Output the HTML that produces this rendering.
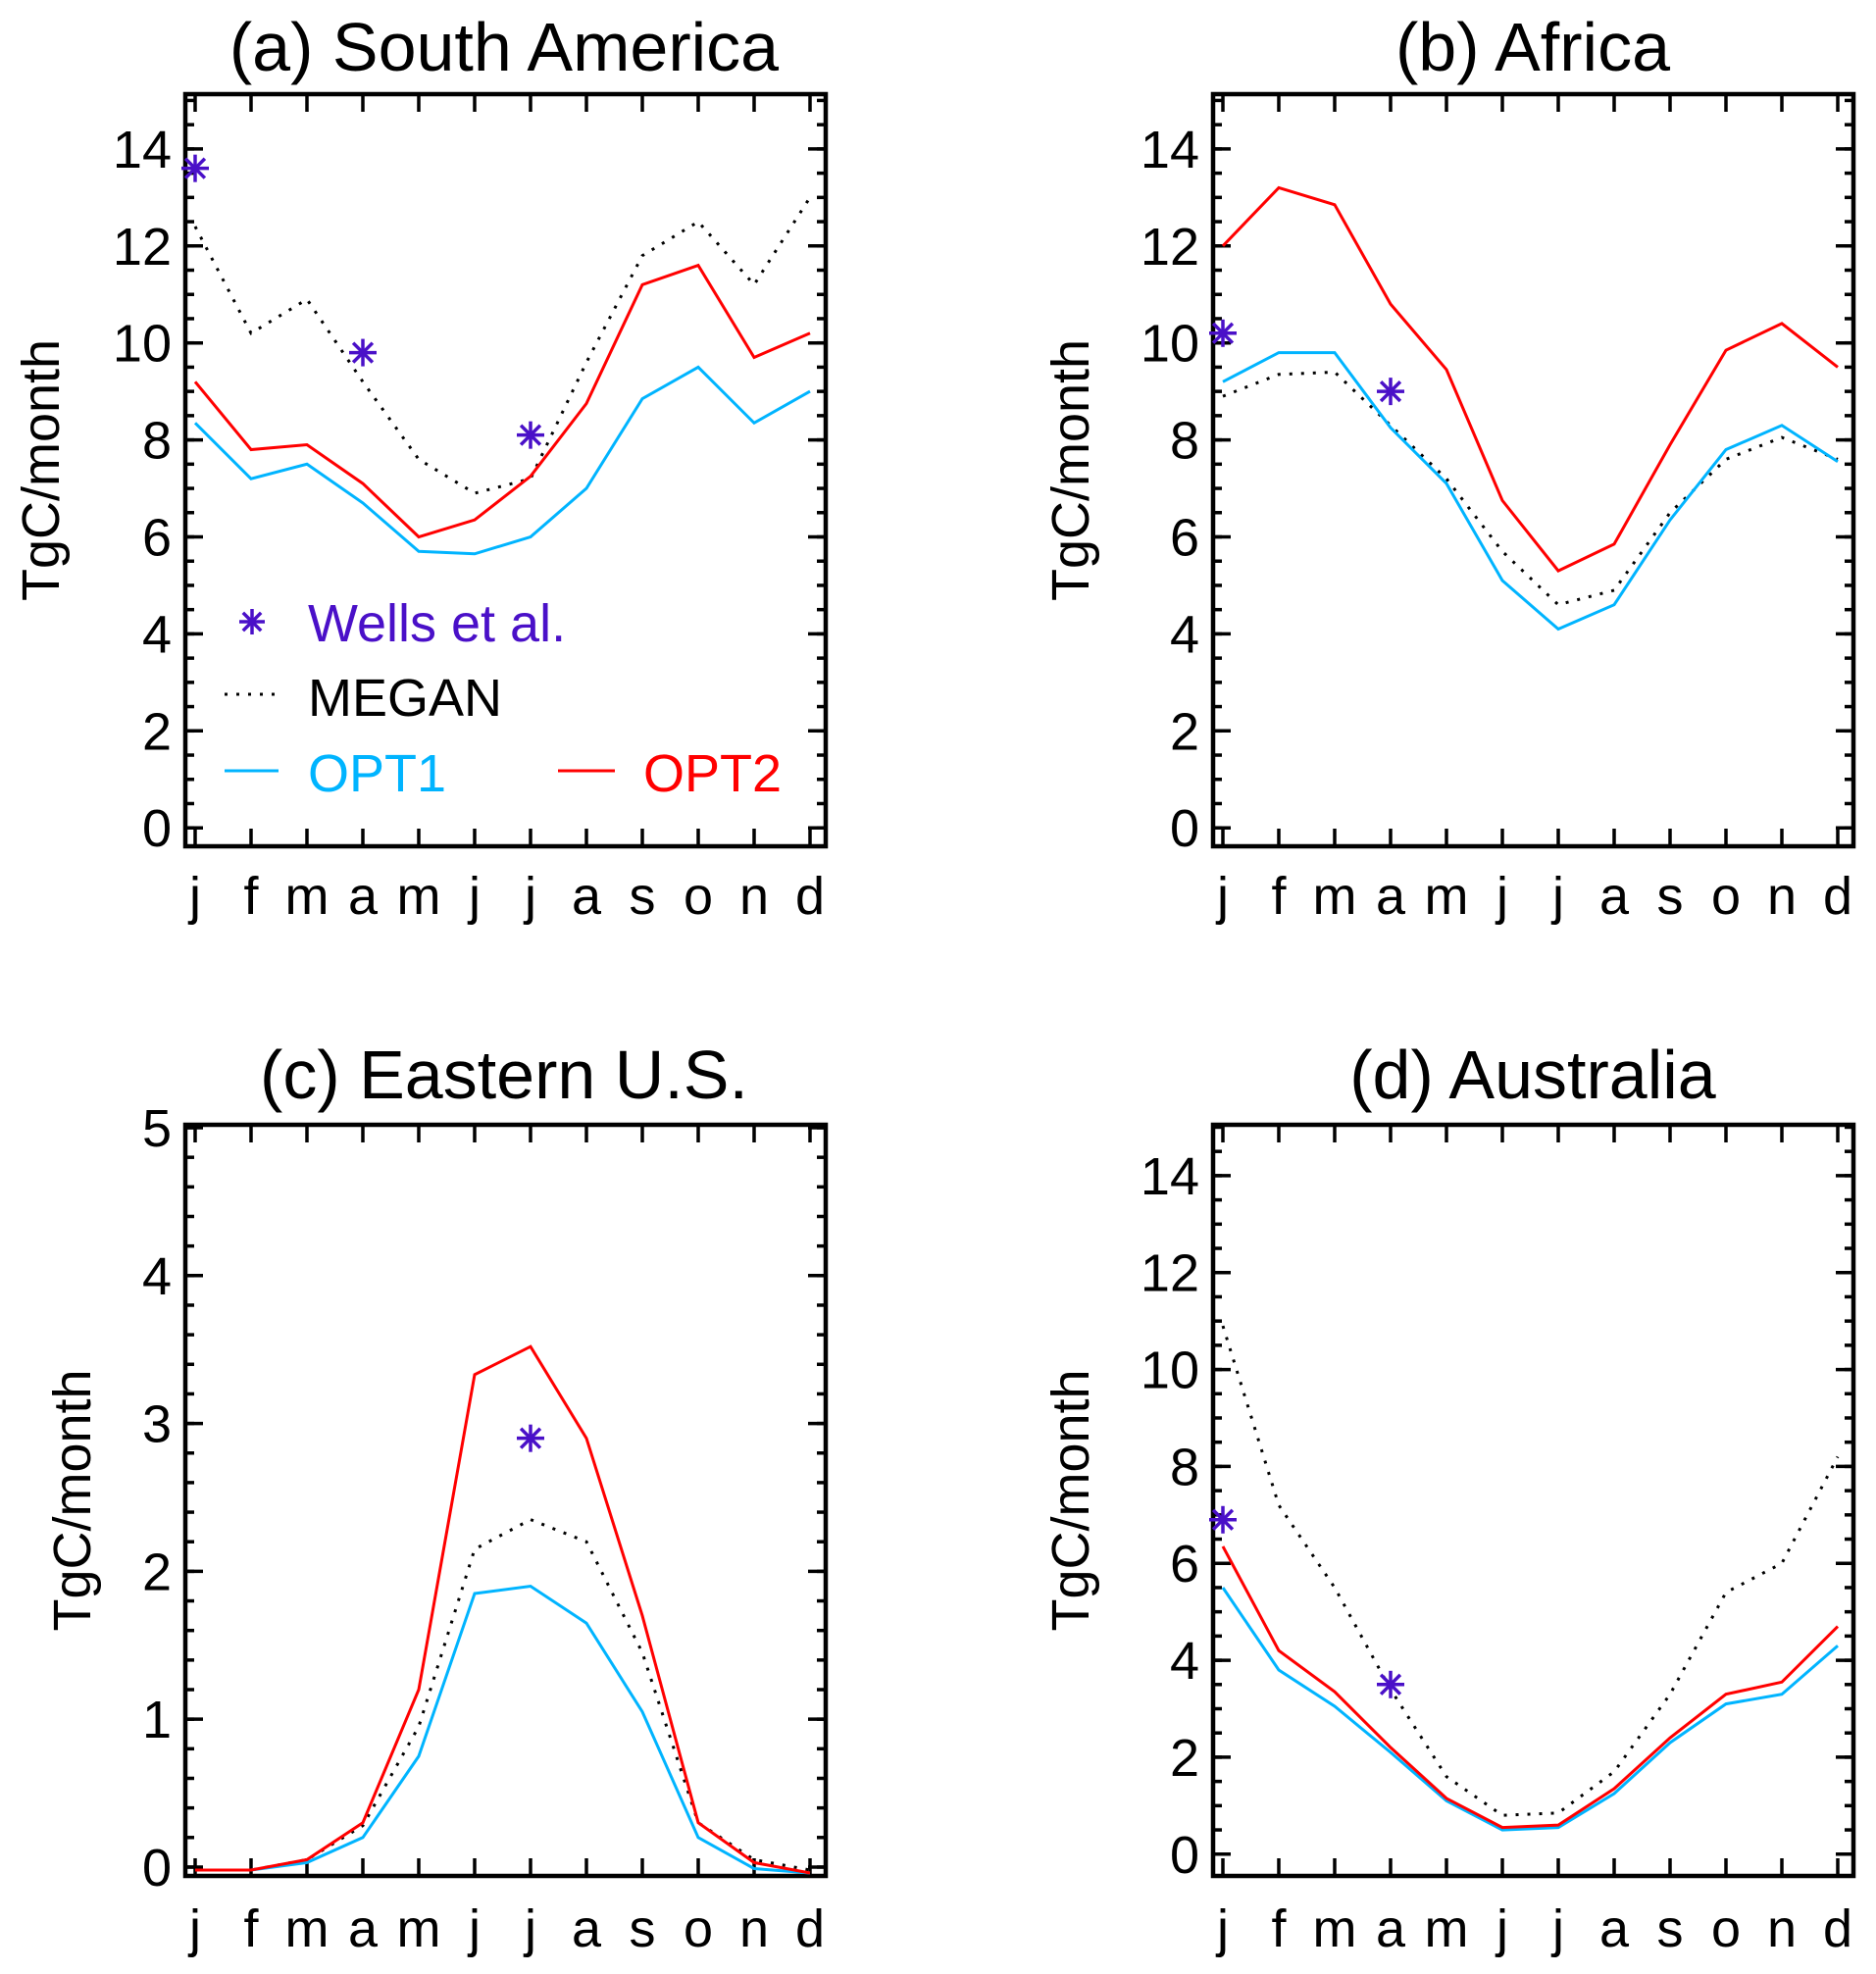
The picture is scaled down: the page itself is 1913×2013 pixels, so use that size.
<!DOCTYPE html>
<html><head><meta charset="utf-8"><style>
html,body{margin:0;padding:0;background:#fff;}
svg{display:block;font-family:"Liberation Sans",Arial,sans-serif;}
</style></head><body>
<svg id="fig" width="1913" height="2013" viewBox="0 0 1913 2013" xmlns="http://www.w3.org/2000/svg"></svg>
<script>
const months = ['j','f','m','a','m','j','j','a','s','o','n','d'];
const titles = ['(a) South America','(b) Africa','(c) Eastern U.S.','(d) Australia'];
const meganA = [12.4,10.2,10.9,9.2,7.6,6.9,7.2,9.6,11.8,12.5,11.2,13.0];
const opt1A = [8.35,7.2,7.5,6.7,5.7,5.65,6.0,7.0,8.85,9.5,8.35,9.0];
const opt2A = [9.2,7.8,7.9,7.1,6.0,6.35,7.25,8.75,11.2,11.6,9.7,10.2];
const wellsMonthsA = [0,3,6];
const wellsA = [13.6,9.8,8.1];
const meganB = [8.9,9.35,9.4,8.3,7.2,5.7,4.6,4.9,6.5,7.6,8.05,7.6];
const opt1B = [9.2,9.8,9.8,8.25,7.1,5.1,4.1,4.6,6.35,7.8,8.3,7.55];
const opt2B = [12.0,13.2,12.85,10.8,9.45,6.75,5.3,5.85,7.9,9.85,10.4,9.5];
const wellsMonthsB = [0,3];
const wellsB = [10.2,9.0];
const meganC = [-0.02,-0.02,0.05,0.28,0.95,2.15,2.35,2.2,1.45,0.3,0.05,-0.02];
const opt1C = [-0.02,-0.02,0.03,0.2,0.75,1.85,1.9,1.65,1.05,0.2,-0.01,-0.04];
const opt2C = [-0.02,-0.02,0.05,0.3,1.2,3.33,3.52,2.9,1.7,0.3,0.03,-0.04];
const wellsMonthsC = [6];
const wellsC = [2.9];
const meganD = [10.9,7.2,5.5,3.4,1.6,0.8,0.85,1.7,3.3,5.4,6.0,8.2];
const opt1D = [5.5,3.8,3.05,2.1,1.1,0.5,0.55,1.25,2.3,3.1,3.3,4.3];
const opt2D = [6.35,4.2,3.35,2.2,1.15,0.55,0.6,1.35,2.4,3.3,3.55,4.7];
const wellsMonthsD = [0,3];
const wellsD = [6.9,3.5];
const yTicksBig = [0,2,4,6,8,10,12,14];
const yTicksSmall = [0,1,2,3,4,5];

const NS='http://www.w3.org/2000/svg';
const svg=document.getElementById('fig');
function mk(tag,attrs,parent){const e=document.createElementNS(NS,tag);for(const k in attrs)e.setAttribute(k,attrs[k]);(parent||svg).appendChild(e);return e;}

const panels=[
 {key:'a',L:189,R:842,T:96,B:863,ymin:-0.38,ymax:15.13,ticks:yTicksBig,minor:0.5,m:meganA,o1:opt1A,o2:opt2A,wm:wellsMonthsA,wv:wellsA,ylx:41,tx:514,ty:72,mly:932},
 {key:'b',L:1237,R:1890,T:96,B:863,ymin:-0.38,ymax:15.13,ticks:yTicksBig,minor:0.5,m:meganB,o1:opt1B,o2:opt2B,wm:wellsMonthsB,wv:wellsB,ylx:1091,tx:1563,ty:72,mly:932},
 {key:'c',L:189,R:842,T:1147,B:1913,ymin:-0.06,ymax:5.02,ticks:yTicksSmall,minor:0.2,m:meganC,o1:opt1C,o2:opt2C,wm:wellsMonthsC,wv:wellsC,ylx:73,tx:514,ty:1120,mly:1985},
 {key:'d',L:1237,R:1890,T:1147,B:1913,ymin:-0.45,ymax:15.05,ticks:yTicksBig,minor:0.5,m:meganD,o1:opt1D,o2:opt2D,wm:wellsMonthsD,wv:wellsD,ylx:1091,tx:1563,ty:1120,mly:1985}
];

function star(g,cx,cy,r,color){
  const s=mk('g',{},g);
  
  
  for(let i=0;i<4;i++){const a=i*Math.PI/4;
    mk('line',{x1:cx-r*Math.cos(a),y1:cy-r*Math.sin(a),x2:cx+r*Math.cos(a),y2:cy+r*Math.sin(a),stroke:color,'stroke-width':3.5},s);}
}

panels.forEach(p=>{
  const g=mk('g',{});
  
  
  const x0=p.L+10, x1=p.R-16;
  const xs=i=>x0+(x1-x0)*i/11;
  const ys=v=>p.B-(v-p.ymin)/(p.ymax-p.ymin)*(p.B-p.T);
  const t=mk('text',{x:p.tx,y:p.ty,'font-size':70,'text-anchor':'middle',fill:'#000'},g);
  t.textContent=titles['abcd'.indexOf(p.key)];
  
  
  const yl=mk('text',{x:0,y:0,'font-size':54,'text-anchor':'middle',fill:'#000',transform:`translate(${p.ylx+19},${(p.T+p.B)/2}) rotate(-90)`},g);
  yl.textContent='TgC/month';
  
  
  for(let v=0; v<=p.ymax+1e-9; v+=p.minor){
    const y=ys(v);
    mk('line',{x1:p.L,y1:y,x2:p.L+9,y2:y,stroke:'#000','stroke-width':3.5},g);
    mk('line',{x1:p.R,y1:y,x2:p.R-9,y2:y,stroke:'#000','stroke-width':3.5},g);
  }
  p.ticks.forEach(v=>{
    const y=ys(v);
    mk('line',{x1:p.L,y1:y,x2:p.L+18,y2:y,stroke:'#000','stroke-width':3.5},g);
    mk('line',{x1:p.R,y1:y,x2:p.R-18,y2:y,stroke:'#000','stroke-width':3.5},g);
    const tl=mk('text',{x:p.L-14,y:y+19,'font-size':54,'text-anchor':'end',fill:'#000'},g);
    tl.textContent=v;
    
    
  });
  months.forEach((m,i)=>{
    const x=xs(i);
    mk('line',{x1:x,y1:p.B,x2:x,y2:p.B-18,stroke:'#000','stroke-width':3.5},g);
    mk('line',{x1:x,y1:p.T,x2:x,y2:p.T+18,stroke:'#000','stroke-width':3.5},g);
    const ml=mk('text',{x:x,y:p.mly,'font-size':54,'text-anchor':'middle',fill:'#000'},g);
    ml.textContent=m;
    
    
  });
  mk('rect',{x:p.L,y:p.T,width:p.R-p.L,height:p.B-p.T,fill:'none',stroke:'#000','stroke-width':4.5},g);
  const pts=arr=>arr.map((v,i)=>xs(i).toFixed(1)+','+ys(v).toFixed(1)).join(' ');
  const lm=mk('polyline',{points:pts(p.m),fill:'none',stroke:'#000','stroke-width':3,'stroke-dasharray':'3 9'},g);
  
  
  const l1=mk('polyline',{points:pts(p.o1),fill:'none',stroke:'#00B4FF','stroke-width':3},g);
  
  
  const l2=mk('polyline',{points:pts(p.o2),fill:'none',stroke:'#FF0000','stroke-width':3},g);
  
  
  p.wm.forEach((mi,k)=>star(g,xs(mi),ys(p.wv[k]),14,'#4A10C8'));
});

const lg=mk('g',{});


star(lg,257,634,13,'#4A10C8');
let tx=mk('text',{x:314,y:654,'font-size':54,fill:'#4A10C8'},lg);tx.textContent='Wells et al.';


mk('line',{x1:229,y1:708,x2:284,y2:708,stroke:'#000','stroke-width':3,'stroke-dasharray':'3 9'},lg);
tx=mk('text',{x:314,y:730,'font-size':54,fill:'#000'},lg);tx.textContent='MEGAN';


mk('line',{x1:229,y1:786,x2:284,y2:786,stroke:'#00B4FF','stroke-width':3},lg);
tx=mk('text',{x:314,y:807,'font-size':54,fill:'#00B4FF'},lg);tx.textContent='OPT1';


mk('line',{x1:569,y1:786,x2:627,y2:786,stroke:'#FF0000','stroke-width':3},lg);
tx=mk('text',{x:656,y:807,'font-size':54,fill:'#FF0000'},lg);tx.textContent='OPT2';


</script>
</body></html>
